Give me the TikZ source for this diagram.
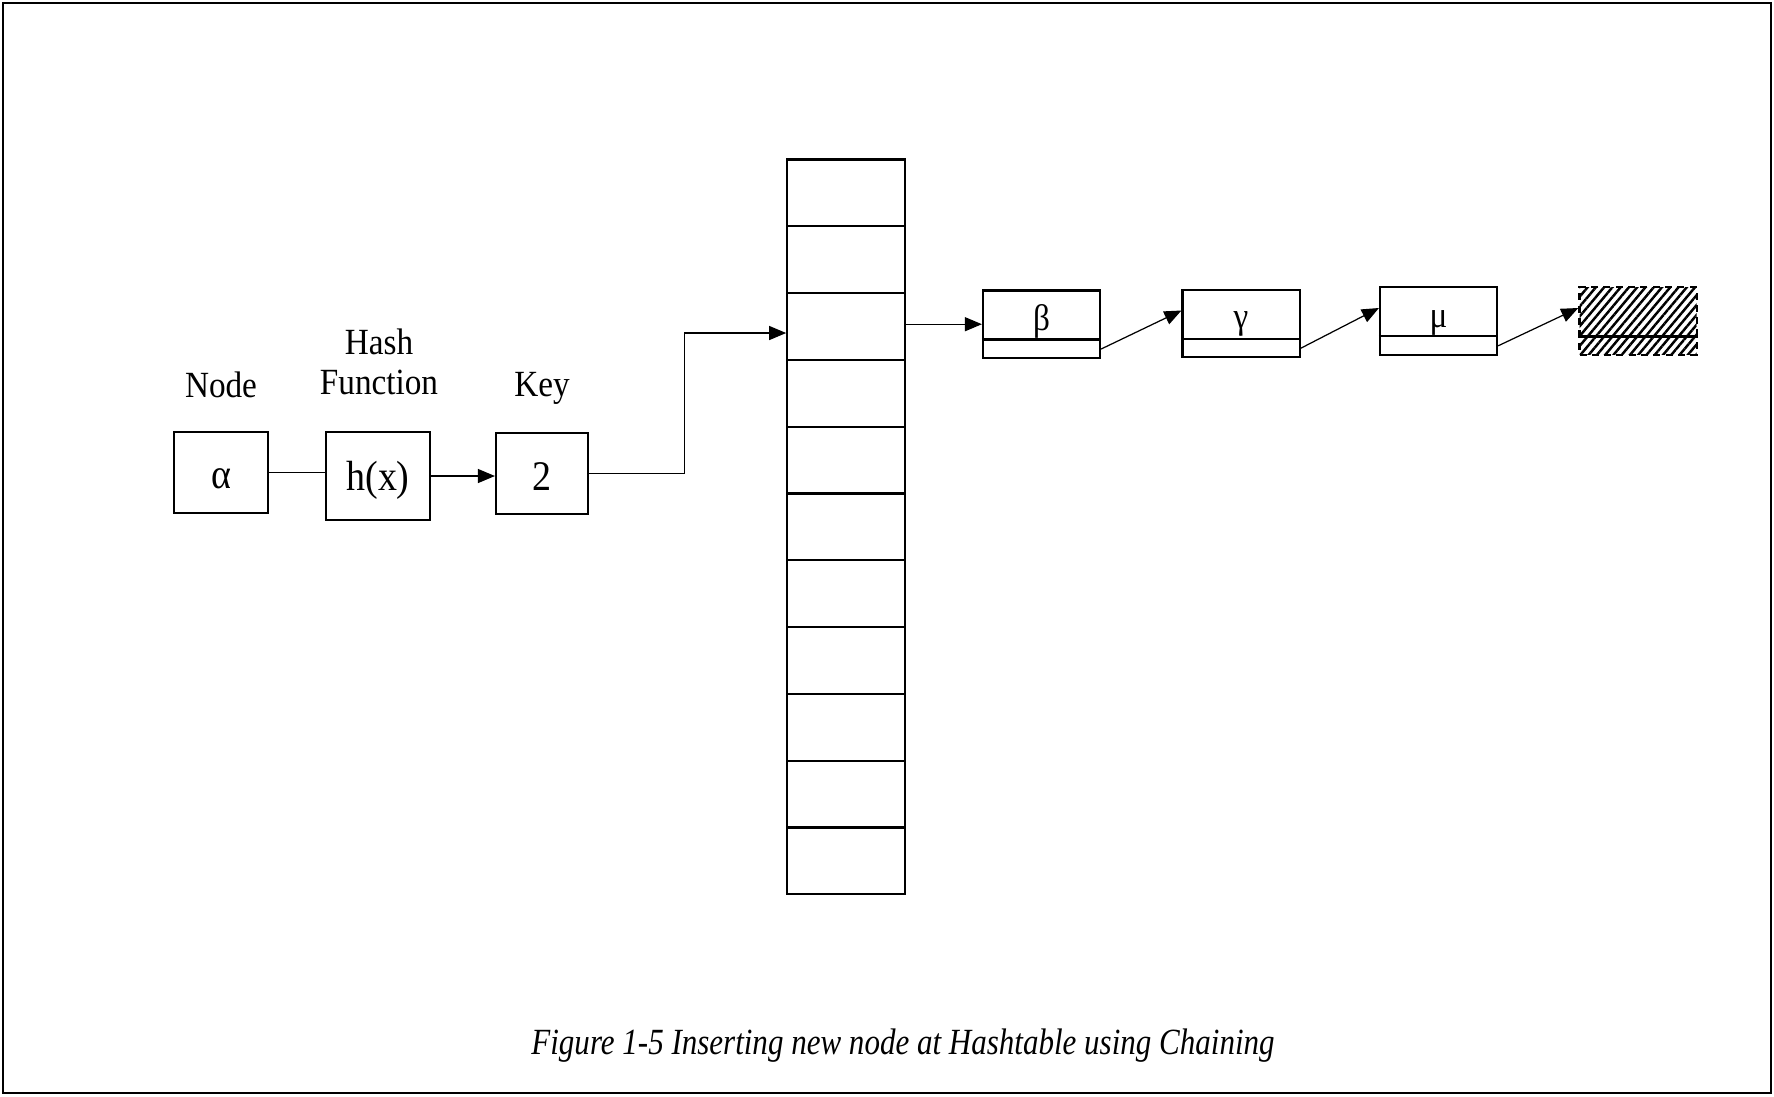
\documentclass[tikz,border=0pt]{standalone}
\usepackage{fontspec}
\setmainfont[FakeStretch=0.9]{Liberation Serif}
\newfontfamily\capfont[FakeStretch=0.84]{Liberation Serif}
\usetikzlibrary{arrows.meta,patterns.meta}
\begin{document}
\begin{tikzpicture}[x=0.01cm,y=-0.01cm,
  box/.style={draw,line width=0.6pt,inner sep=0pt},
  boxtext/.style={font=\fontsize{12}{14}\selectfont,inner sep=0pt},
  cell/.style={draw,line width=0.6pt,minimum width=1.175cm,minimum height=0.668cm,inner sep=0pt},
  listbox/.style={draw,line width=0.6pt,minimum width=1.17cm,minimum height=0.675cm,inner sep=0pt},
  lbl/.style={font=\fontsize{10.5}{11.5}\selectfont,align=center,inner sep=0pt},
  arr/.style={line width=0.35pt,-{Triangle[length=0.17cm,width=0.14cm]}},
  thin/.style={line width=0.35pt}]
\useasboundingbox (0,0) rectangle (1774,1096);
\draw[line width=0.6pt] (3,3) rectangle (1771,1093);

\node[box,minimum width=0.94cm,minimum height=0.81cm] (a) at (221,472.5) {};
\node[box,minimum width=1.04cm,minimum height=0.88cm] (h) at (378,476) {};
\node[box,minimum width=0.92cm,minimum height=0.81cm] (k) at (542,473.5) {};
\node[boxtext] (at) at (221,479) {α};
\node[boxtext] (ht) at (378,480) {h(x)};
\node[boxtext] (kt) at (542,477) {2};

\node[lbl] (nodelbl) at (221,385) {Node};
\node[lbl] (hashlbl) at (379,362) {Hash\\Function};
\node[lbl] (keylbl) at (542,388) {Key};

\draw[thin] (a.east) -- (a.east -| h.west);
\draw[arr] (h.east) -- (h.east -| k.west);

\foreach \i in {0,1,...,10}{
\node[cell] (t\i) at (846,{192.9+66.8*\i}) {};
}

\coordinate (bend) at (684.5,333);
\draw[arr] (k.east) -| (bend) -- (bend -| t2.west);

\node[listbox] (b) at (1041.5,324.2) {};
\node[listbox] (g) at (1241,323.5) {};
\node[listbox] (m) at (1438.5,321) {};
\node[listbox,dashed,dash pattern=on 2pt off 1.5pt,pattern={Lines[angle=50,distance=1.8pt,line width=0.7pt]}] (n) at (1638,321) {};

\node[lbl] (bt) at (1041.5,321) {β};
\node[lbl] (gt) at (1241,324) {γ};
\node[lbl] (mt) at (1438.5,323) {μ};

\foreach \n in {b,g,m,n}{
\draw[line width=0.6pt] ([yshift=0.195cm]\n.south west) -- ([yshift=0.195cm]\n.south east);
}

\draw[arr] (b.west -| t2.east) -- (b.west);
\draw[arr] ([yshift=0.1cm]b.south east) -- ([yshift=0.13cm]g.west);
\draw[arr] ([yshift=0.1cm]g.south east) -- ([yshift=0.13cm]m.west);
\draw[arr] ([yshift=0.1cm]m.south east) -- ([yshift=0.13cm]n.west);

\node[font=\capfont\fontsize{10.5}{12.5}\selectfont\itshape] (cap) at (903,1046) {Figure 1-5 Inserting new node at Hashtable using Chaining};
\end{tikzpicture}
\end{document}
